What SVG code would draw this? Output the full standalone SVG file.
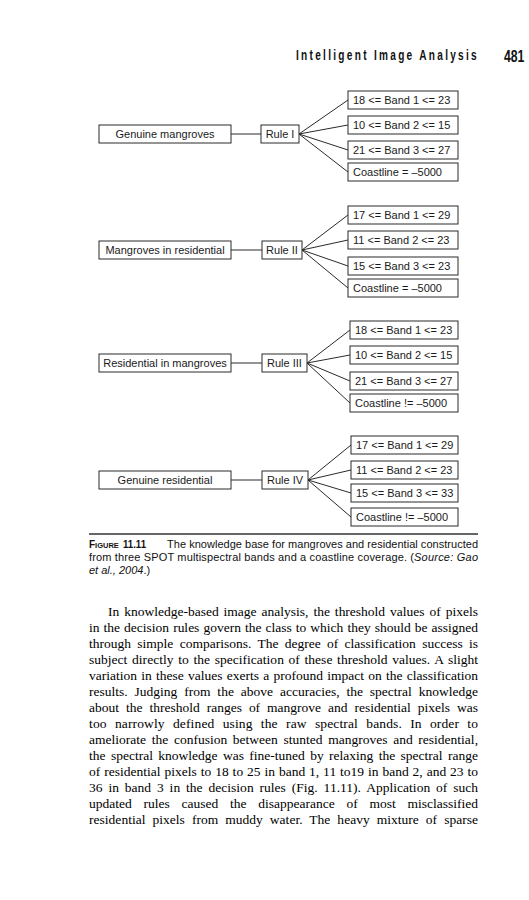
<svg xmlns="http://www.w3.org/2000/svg" width="529" height="900" viewBox="0 0 529 900">
<style>
.bg{fill:#fff}
.box{fill:#fff;stroke:#2a2a2a;stroke-width:1}
.ln{stroke:#2a2a2a;stroke-width:1;fill:none}
.t{font-family:"Liberation Sans",Arial,sans-serif;font-size:11px;fill:#1a1a1a}
.c{text-anchor:middle}
.hd{font-family:"Liberation Sans",Arial,sans-serif;font-weight:bold;fill:#111}
.cap{font-family:"Liberation Sans",Arial,sans-serif;font-size:11px;fill:#111}
.body{font-family:"Liberation Serif","Times New Roman",serif;font-size:13.5px;fill:#000}
</style>
<rect class="bg" x="0" y="0" width="529" height="900"/>
<g id="header">
<g transform="translate(296,60) scale(0.72,1)"><text class="hd" x="0" y="0" font-size="14" textLength="251" lengthAdjust="spacing">Intelligent Image Analysis</text></g>
<g transform="translate(504,62) scale(0.72,1)"><text class="hd" x="0" y="0" font-size="17">481</text></g>
</g>
<g id="connectors">
<line class="ln" x1="231" y1="134" x2="261" y2="134"/>
<line class="ln" x1="299" y1="134" x2="348" y2="100"/>
<line class="ln" x1="299" y1="134" x2="348" y2="125"/>
<line class="ln" x1="299" y1="134" x2="348" y2="150"/>
<line class="ln" x1="299" y1="134" x2="348" y2="172"/>
<line class="ln" x1="231" y1="250" x2="262" y2="250"/>
<line class="ln" x1="302" y1="250" x2="348" y2="215"/>
<line class="ln" x1="302" y1="250" x2="348" y2="240"/>
<line class="ln" x1="302" y1="250" x2="348" y2="266"/>
<line class="ln" x1="302" y1="250" x2="348" y2="288"/>
<line class="ln" x1="231" y1="363" x2="262" y2="363"/>
<line class="ln" x1="307" y1="363" x2="350" y2="330"/>
<line class="ln" x1="307" y1="363" x2="350" y2="355"/>
<line class="ln" x1="307" y1="363" x2="350" y2="381"/>
<line class="ln" x1="307" y1="363" x2="350" y2="403"/>
<line class="ln" x1="231" y1="480" x2="262" y2="480"/>
<line class="ln" x1="308" y1="480" x2="351" y2="445"/>
<line class="ln" x1="308" y1="480" x2="351" y2="470"/>
<line class="ln" x1="308" y1="480" x2="351" y2="493"/>
<line class="ln" x1="308" y1="480" x2="351" y2="517"/>
</g>
<g id="genuine-mangroves"><rect class="box" x="99" y="125" width="132" height="18"/><text class="t c" x="165" y="138">Genuine mangroves</text></g>
<g id="rule-1"><rect class="box" x="261" y="125" width="38" height="18"/><text class="t c" x="280" y="138">Rule I</text></g>
<g id="r1-band1"><rect class="box" x="348" y="91" width="110" height="18"/><text class="t" x="353" y="104">18 &lt;= Band 1 &lt;= 23</text></g>
<g id="r1-band2"><rect class="box" x="348" y="116" width="110" height="18"/><text class="t" x="353" y="129">10 &lt;= Band 2 &lt;= 15</text></g>
<g id="r1-band3"><rect class="box" x="348" y="141" width="110" height="18"/><text class="t" x="353" y="154">21 &lt;= Band 3 &lt;= 27</text></g>
<g id="r1-coast"><rect class="box" x="348" y="163" width="110" height="18"/><text class="t" x="353" y="176">Coastline = –5000</text></g>

<g id="mangroves-in-residential"><rect class="box" x="99" y="241" width="132" height="18"/><text class="t c" x="165" y="254">Mangroves in residential</text></g>
<g id="rule-2"><rect class="box" x="262" y="241" width="40" height="18"/><text class="t c" x="282" y="254">Rule II</text></g>
<g id="r2-band1"><rect class="box" x="348" y="206" width="110" height="18"/><text class="t" x="353" y="219">17 &lt;= Band 1 &lt;= 29</text></g>
<g id="r2-band2"><rect class="box" x="348" y="231" width="110" height="18"/><text class="t" x="353" y="244">11 &lt;= Band 2 &lt;= 23</text></g>
<g id="r2-band3"><rect class="box" x="348" y="257" width="110" height="18"/><text class="t" x="353" y="270">15 &lt;= Band 3 &lt;= 23</text></g>
<g id="r2-coast"><rect class="box" x="348" y="279" width="110" height="18"/><text class="t" x="353" y="292">Coastline = –5000</text></g>

<g id="residential-in-mangroves"><rect class="box" x="99" y="354" width="132" height="18"/><text class="t c" x="165" y="367">Residential in mangroves</text></g>
<g id="rule-3"><rect class="box" x="262" y="354" width="45" height="18"/><text class="t c" x="284.5" y="367">Rule III</text></g>
<g id="r3-band1"><rect class="box" x="350" y="321" width="108" height="18"/><text class="t" x="355" y="334">18 &lt;= Band 1 &lt;= 23</text></g>
<g id="r3-band2"><rect class="box" x="350" y="346" width="108" height="18"/><text class="t" x="355" y="359">10 &lt;= Band 2 &lt;= 15</text></g>
<g id="r3-band3"><rect class="box" x="350" y="372" width="108" height="18"/><text class="t" x="355" y="385">21 &lt;= Band 3 &lt;= 27</text></g>
<g id="r3-coast"><rect class="box" x="350" y="394" width="108" height="18"/><text class="t" x="355" y="407">Coastline != –5000</text></g>

<g id="genuine-residential"><rect class="box" x="99" y="471" width="132" height="18"/><text class="t c" x="165" y="484">Genuine residential</text></g>
<g id="rule-4"><rect class="box" x="262" y="471" width="46" height="18"/><text class="t c" x="285" y="484">Rule IV</text></g>
<g id="r4-band1"><rect class="box" x="351" y="436" width="107" height="18"/><text class="t" x="356" y="449">17 &lt;= Band 1 &lt;= 29</text></g>
<g id="r4-band2"><rect class="box" x="351" y="461" width="107" height="18"/><text class="t" x="356" y="474">11 &lt;= Band 2 &lt;= 23</text></g>
<g id="r4-band3"><rect class="box" x="351" y="484" width="107" height="18"/><text class="t" x="356" y="497">15 &lt;= Band 3 &lt;= 33</text></g>
<g id="r4-coast"><rect class="box" x="351" y="508" width="107" height="18"/><text class="t" x="356" y="521">Coastline != –5000</text></g>

<g id="caption">
<line x1="89" y1="534" x2="478" y2="534" stroke="#333" stroke-width="1.5"/>
<text class="cap" x="89" y="548" font-weight="bold"><tspan font-size="10">F</tspan><tspan font-size="7.5">IGURE</tspan></text>
<text class="cap" x="123" y="548" font-weight="bold" font-size="11.5" textLength="23" lengthAdjust="spacingAndGlyphs">11.11</text>
<text class="cap" x="167" y="548" textLength="311" lengthAdjust="spacing">The knowledge base for mangroves and residential constructed</text>
<text class="cap" x="89" y="561" textLength="325" lengthAdjust="spacing">from three SPOT multispectral bands and a coastline coverage. (</text>
<text class="cap" x="414" y="561" font-style="italic" textLength="64" lengthAdjust="spacing">Source: Gao</text>
<text class="cap" x="89" y="574"><tspan font-style="italic">et al., 2004</tspan>.)</text>
</g>
<g id="body">
<text class="body" x="108" y="616" word-spacing="1.6" textLength="370" lengthAdjust="spacing">In knowledge-based image analysis, the threshold values of pixels</text>
<text class="body" x="89" y="632" word-spacing="0.7" textLength="389" lengthAdjust="spacing">in the decision rules govern the class to which they should be assigned</text>
<text class="body" x="89" y="648" word-spacing="2.9" textLength="389" lengthAdjust="spacing">through simple comparisons. The degree of classification success is</text>
<text class="body" x="89" y="664" word-spacing="1.3" textLength="389" lengthAdjust="spacing">subject directly to the specification of these threshold values. A slight</text>
<text class="body" x="89" y="680" word-spacing="0.9" textLength="389" lengthAdjust="spacing">variation in these values exerts a profound impact on the classification</text>
<text class="body" x="89" y="696" word-spacing="3.5" textLength="389" lengthAdjust="spacing">results. Judging from the above accuracies, the spectral knowledge</text>
<text class="body" x="89" y="712" word-spacing="3.6" textLength="389" lengthAdjust="spacing">about the threshold ranges of mangrove and residential pixels was</text>
<text class="body" x="89" y="728" word-spacing="4.75" textLength="389" lengthAdjust="spacing">too narrowly defined using the raw spectral bands. In order to</text>
<text class="body" x="89" y="744" word-spacing="2.3" textLength="389" lengthAdjust="spacing">ameliorate the confusion between stunted mangroves and residential,</text>
<text class="body" x="89" y="760" word-spacing="2.0" textLength="389" lengthAdjust="spacing">the spectral knowledge was fine-tuned by relaxing the spectral range</text>
<text class="body" x="89" y="776" word-spacing="0.5" textLength="389" lengthAdjust="spacing">of residential pixels to 18 to 25 in band 1, 11 to19 in band 2, and 23 to</text>
<text class="body" x="89" y="792" word-spacing="2.45" textLength="389" lengthAdjust="spacing">36 in band 3 in the decision rules (Fig. 11.11). Application of such</text>
<text class="body" x="89" y="808" word-spacing="8.4" textLength="389" lengthAdjust="spacing">updated rules caused the disappearance of most misclassified</text>
<text class="body" x="89" y="824" word-spacing="3.6" textLength="389" lengthAdjust="spacing">residential pixels from muddy water. The heavy mixture of sparse</text>
</g>
</svg>
